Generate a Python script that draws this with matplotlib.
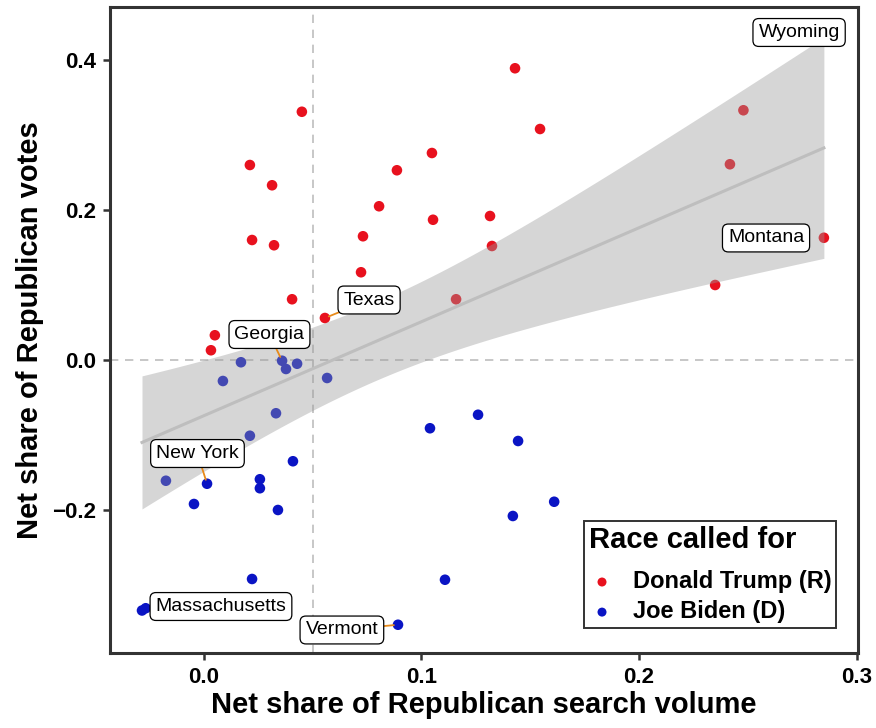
import numpy as np
import matplotlib
matplotlib.use("Agg")
import matplotlib.pyplot as plt

plt.rcParams['font.family'] = ['Liberation Sans', 'DejaVu Sans']

# Net share of Republican search volume (x) and votes (y), by state
trump_x = [0.143, 0.045, 0.248, 0.1545, 0.0211, 0.1048, 0.0313, 0.0887, 0.2418,
           0.0805, 0.1053, 0.1315, 0.0221, 0.0322, 0.0731, 0.1324, 0.285, 0.0722,
           0.0405, 0.1159, 0.235, 0.0556, 0.005, 0.0032, 0.280]
trump_y = [0.389, 0.331, 0.333, 0.308, 0.260, 0.276, 0.233, 0.253, 0.261,
           0.205, 0.187, 0.192, 0.160, 0.153, 0.165, 0.152, 0.163, 0.117,
           0.081, 0.081, 0.100, 0.056, 0.033, 0.013, 0.436]
trump_states = ["", "", "", "", "", "", "", "", "",
                "", "", "", "", "", "", "", "Montana", "",
                "", "", "", "Texas", "", "", "Wyoming"]

biden_x = [0.017, 0.0359, 0.0377, 0.0428, 0.0087, 0.0566, 0.0331, 0.0211, 0.1039,
           0.126, 0.1444, 0.0409, -0.0175, 0.0014, 0.0257, 0.0257, -0.0046, 0.034,
           0.161, 0.142, 0.0221, 0.1108, -0.0268, -0.0285, 0.0892]
biden_y = [-0.003, -0.001, -0.012, -0.005, -0.028, -0.024, -0.071, -0.101, -0.091,
           -0.073, -0.108, -0.135, -0.161, -0.165, -0.159, -0.171, -0.192, -0.200,
           -0.189, -0.208, -0.292, -0.293, -0.331, -0.334, -0.353]
biden_states = ["", "Georgia", "", "", "", "", "", "", "",
                "", "", "", "", "New York", "", "", "", "",
                "", "", "", "", "Massachusetts", "", "Vermont"]

# Label centre for each named state, and whether a leader line is drawn
label_pos = {
    "Wyoming": (0.2736, 0.4367, False),
    "Montana": (0.2584, 0.1627, False),
    "Texas": (0.0759, 0.080, True),
    "Georgia": (0.0301, 0.034, True),
    "New York": (-0.003, -0.1247, True),
    "Massachusetts": (0.0078, -0.3287, False),
    "Vermont": (0.0634, -0.360, True),
}

RED = "#E8111E"
BLUE = "#0A14C4"

fig = plt.figure(figsize=(8.76, 7.28), dpi=100)
ax = fig.add_axes([0.1256, 0.103, 0.8539, 0.8874])

ax.axvline(0.05, color="#BEBEBE", lw=1.2, ls=(0, (5, 4)), zorder=1)
ax.axhline(0.0, color="#BEBEBE", lw=1.2, ls=(0, (5, 4)), zorder=1)

ax.scatter(trump_x, trump_y, s=58, color=RED, edgecolors="none", zorder=2,
           label="Donald Trump (R)")
ax.scatter(biden_x, biden_y, s=58, color=BLUE, edgecolors="none", zorder=2,
           label="Joe Biden (D)")

# Linear fit with 95% confidence band over all states
x = np.array(trump_x + biden_x)
y = np.array(trump_y + biden_y)
n = len(x)
slope, intercept = np.polyfit(x, y, 1)
resid = y - (slope * x + intercept)
s = np.sqrt(np.sum(resid ** 2) / (n - 2))
sxx = np.sum((x - x.mean()) ** 2)
try:
    from scipy.stats import t as tdist
    tq = tdist.ppf(0.975, n - 2)
except Exception:
    z = 1.959964
    df = n - 2
    tq = z + (z ** 3 + z) / (4 * df) + (5 * z ** 5 + 16 * z ** 3 + 3 * z) / (96 * df ** 2)
xs = np.linspace(x.min(), x.max(), 200)
ys = slope * xs + intercept
half = tq * s * np.sqrt(1 / n + (xs - x.mean()) ** 2 / sxx)
ax.fill_between(xs, ys - half, ys + half, color="#999999", alpha=0.4, lw=0, zorder=3)
ax.plot(xs, ys, color="#BEBEBE", lw=2.2, zorder=4)

# State labels, with leader lines where the label sits away from its point
all_x = trump_x + biden_x
all_y = trump_y + biden_y
all_names = trump_states + biden_states
box = dict(boxstyle="round,pad=0.28,rounding_size=0.3", fc="white", ec="black", lw=0.9)
for px, py, name in zip(all_x, all_y, all_names):
    if not name:
        continue
    lx, ly, seg = label_pos[name]
    arrow = dict(arrowstyle="-", color="#E88A1A", lw=1.3, shrinkA=0, shrinkB=3) if seg else None
    ax.annotate(name, xy=(px, py), xytext=(lx, ly), textcoords="data",
                ha="center", va="center", fontsize=14, color="black", zorder=6,
                bbox=box, arrowprops=arrow)

ax.set_xlim(-0.0432, 0.3007)
ax.set_ylim(-0.3907, 0.4707)
ax.set_xticks([0.0, 0.1, 0.2, 0.3])
ax.set_xticklabels(["0.0", "0.1", "0.2", "0.3"])
ax.set_yticks([-0.2, 0.0, 0.2, 0.4])
ax.set_yticklabels(["\u22120.2", "0.0", "0.2", "0.4"])

for side in ax.spines.values():
    side.set_color("#333333")
    side.set_linewidth(2.2)
ax.tick_params(axis="both", direction="out", length=5, width=1.8, color="#333333",
               labelsize=16, labelcolor="black", pad=5)
for lab in ax.get_xticklabels() + ax.get_yticklabels():
    lab.set_fontweight("bold")

ax.set_xlabel("Net share of Republican search volume", fontsize=21, fontweight="bold",
              labelpad=2)
ax.set_ylabel("Net share of Republican votes", fontsize=21, fontweight="bold",
              labelpad=6)

leg = ax.legend(title="Race called for", loc="lower right",
                bbox_to_anchor=(0.9706, 0.0387), borderaxespad=0,
                fontsize=17, title_fontsize=21, frameon=True, fancybox=False,
                markerscale=0.85, handletextpad=0.75, borderpad=0.2,
                labelspacing=0.3, handlelength=1.1)
leg.get_frame().set_edgecolor("black")
leg.get_frame().set_linewidth(1.4)
leg._legend_box.align = "left"
leg._legend_box.sep = 12
leg.get_title().set_fontweight("bold")
for t in leg.get_texts():
    t.set_fontweight("bold")
leg.set_zorder(7)

fig.savefig("out.png", dpi=100)
